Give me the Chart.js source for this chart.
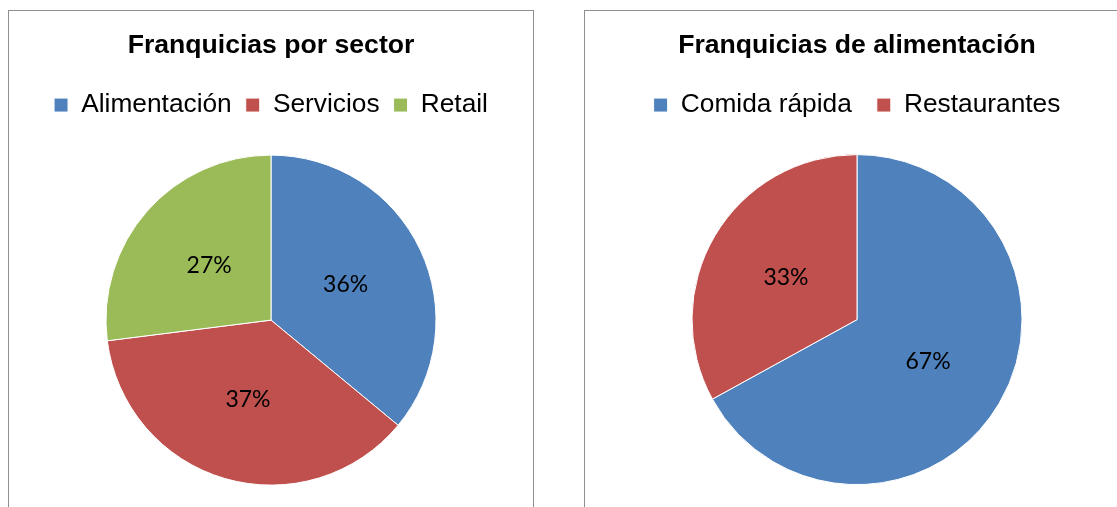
<!DOCTYPE html>
<html>
<head>
<meta charset="utf-8">
<script src="https://cdn.jsdelivr.net/npm/chart.js@4.4.1/dist/chart.umd.min.js"></script>
<style>
  html, body { margin: 0; padding: 0; background: #fff; overflow: hidden; width: 1117px; height: 507px; }
  .panel { position: absolute; border: 1px solid #8f8f8f; background: #fff; }
  #p1 { left: 8px; top: 10px; width: 524px; height: 510px; }
  #p2 { left: 584px; top: 10px; width: 544px; height: 510px; }
  canvas { display: block; }
</style>
</head>
<body>
<div class="panel" id="p1"><canvas id="c1" width="524" height="510"></canvas></div>
<div class="panel" id="p2"><canvas id="c2" width="544" height="510"></canvas></div>
<script>
// ---- data ----
const sectorTitle = 'Franquicias por sector';
const sectorLabels = ['Alimentación', 'Servicios', 'Retail'];
const sectorValues = [36, 37, 27];

const foodTitle = 'Franquicias de alimentación';
const foodLabels = ['Comida rápida', 'Restaurantes'];
const foodValues = [67, 33];

// ---- styles ----
const sliceColors = ['#4F81BD', '#C0504D', '#9BBB59'];
const sansFamily = "'Liberation Sans', Arial, sans-serif";
const labelFamily = "Lato, 'Open Sans', sans-serif";

const pctLabels = {
  id: 'pctLabels',
  afterDatasetsDraw(chart) {
    const ctx = chart.ctx;
    const ds = chart.data.datasets[0];
    const total = ds.data.reduce((a, b) => a + b, 0);
    const meta = chart.getDatasetMeta(0);
    ctx.save();
    ctx.font = '23px ' + labelFamily;
    ctx.fillStyle = '#000';
    ctx.textAlign = 'center';
    ctx.textBaseline = 'middle';
    meta.data.forEach((arc, i) => {
      const p = arc.tooltipPosition();
      ctx.fillText(Math.round(ds.data[i] / total * 100) + '%', p.x, p.y);
    });
    ctx.restore();
  }
};

function makePie(id, title, labels, values, legendGap, titleGap, bottomPad) {
  return new Chart(document.getElementById(id), {
    type: 'pie',
    data: {
      labels: labels,
      datasets: [{
        data: values,
        backgroundColor: sliceColors.slice(0, values.length),
        borderColor: '#ffffff',
        borderWidth: 1,
        radius: 165
      }]
    },
    options: {
      responsive: false,
      animation: false,
      events: [],
      layout: { padding: { top: 0, bottom: bottomPad, left: 0, right: 0 } },
      plugins: {
        title: {
          display: true,
          text: title,
          color: '#000',
          font: { family: sansFamily, size: 26.6, weight: 'bold' },
          padding: { top: 19, bottom: titleGap }
        },
        legend: {
          display: true,
          position: 'top',
          labels: {
            color: '#000',
            font: { family: sansFamily, size: 26.3 },
            boxWidth: 14,
            boxHeight: 14,
            padding: legendGap
          }
        },
        tooltip: { enabled: false }
      }
    },
    plugins: [pctLabels]
  });
}

makePie('c1', sectorTitle, sectorLabels, sectorValues, 14, 16, 9);
makePie('c2', foodTitle, foodLabels, foodValues, 25, 5, 10);
</script>
</body>
</html>
